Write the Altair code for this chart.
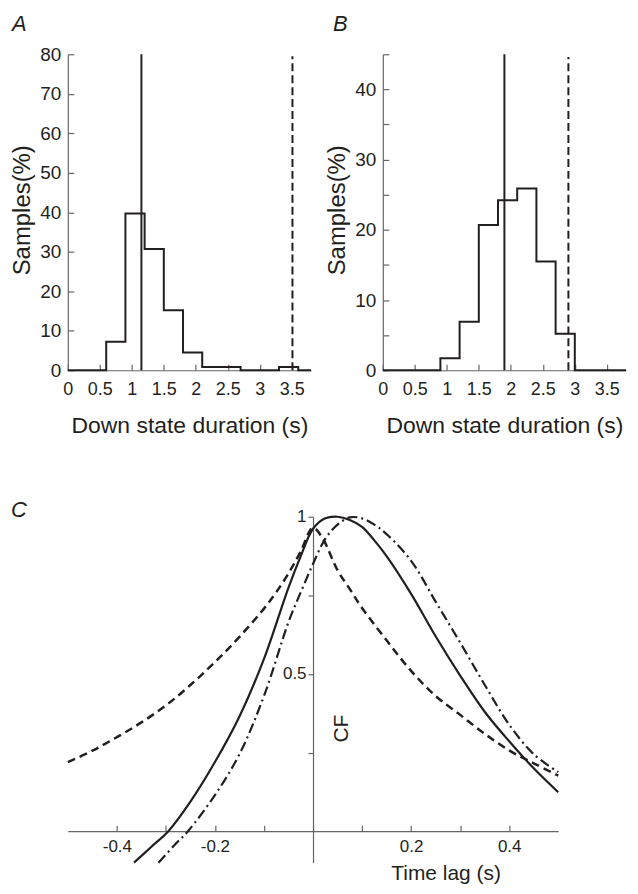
import altair as alt
import pandas as pd

FONT = "Liberation Sans"
INK = "#231f20"
AXC = "#666666"

# ---------------- data ----------------
# Panels A/B: histogram bin edges (s) and percentage of samples per bin
bin_edges = [0.0, 0.3, 0.6, 0.9, 1.2, 1.5, 1.8, 2.1, 2.4, 2.7, 3.0, 3.3, 3.6, 3.8]
a_pct = [0, 0, 7.2, 39.7, 30.7, 15.2, 4.5, 0.85, 0.85, 0, 0, 0.85, 0]
b_pct = [0, 0, 0, 1.7, 6.9, 20.7, 24.2, 25.9, 15.5, 5.2, 0, 0, 0]
a_mean, a_thresh, a_thresh_top = 1.15, 3.51, 79.5
b_mean, b_thresh, b_thresh_top = 1.9, 2.9, 44.6
x_ticks_hist = [0, 0.5, 1, 1.5, 2, 2.5, 3, 3.5]
a_yticks = [0, 10, 20, 30, 40, 50, 60, 70, 80]
b_yticks = [0, 5, 10, 15, 20, 25, 30, 35, 40, 45]
panel_letters = ["A", "B", "C"]

# Panel C: correlation functions vs time lag
solid_lag = [-0.365, -0.33, -0.295, -0.25, -0.2, -0.15, -0.1, -0.05, -0.025, 0.0, 0.025,
             0.05, 0.075, 0.1, 0.125, 0.15, 0.2, 0.25, 0.3, 0.35, 0.4, 0.45, 0.5]
solid_cf = [-0.1, -0.05, 0.0, 0.094, 0.22, 0.365, 0.548, 0.775, 0.875, 0.962, 0.995,
            1.0, 0.99, 0.968, 0.925, 0.875, 0.755, 0.62, 0.495, 0.38, 0.286, 0.20, 0.124]
dash_lag = [-0.5, -0.45, -0.4, -0.35, -0.3, -0.25, -0.2, -0.15, -0.1, -0.075, -0.05,
            -0.025, 0.0, 0.02, 0.05, 0.075, 0.1, 0.15, 0.2, 0.25, 0.3, 0.35, 0.4, 0.45, 0.5]
dash_cf = [0.22, 0.256, 0.299, 0.346, 0.40, 0.465, 0.538, 0.618, 0.708, 0.76, 0.82,
           0.89, 0.965, 0.93, 0.83, 0.77, 0.71, 0.607, 0.51, 0.43, 0.37, 0.31, 0.257, 0.216, 0.177]
dd_lag = [-0.315, -0.28, -0.255, -0.2, -0.15, -0.1, -0.05, -0.025, 0.0, 0.025, 0.05,
          0.075, 0.1, 0.125, 0.15, 0.2, 0.25, 0.3, 0.35, 0.4, 0.45, 0.5]
dd_cf = [-0.1, -0.04, 0.0, 0.115, 0.245, 0.43, 0.665, 0.76, 0.85, 0.93, 0.975,
         0.998, 0.995, 0.975, 0.945, 0.86, 0.73, 0.60, 0.466, 0.339, 0.245, 0.188]
c_xticks = [-0.4, -0.3, -0.2, -0.1, 0.0, 0.1, 0.2, 0.3, 0.4]
c_yticks = [0.25, 0.5, 0.75, 1.0]

W_H, H_H = 244, 317
W_C, H_C = 492, 347
C_XDOM = [-0.5, 0.5]
C_YDOM = [-0.1, 1.0]


def letter_mark(txt, dx, dy):
    return alt.Chart(pd.DataFrame({"t": [txt]})).mark_text(
        font=FONT, fontSize=22, fontStyle="italic", color=INK,
        align="left", baseline="alphabetic").encode(
        text="t:N", x=alt.value(dx), y=alt.value(dy))


def hist_panel(pct, mean, thresh, thresh_top, ymax, yticks, label_every, letter, dx):
    df = pd.DataFrame({"x": bin_edges, "y": pct + [pct[-1]]})
    xs = alt.Scale(domain=[0, 3.8], nice=False, zero=False)
    ys = alt.Scale(domain=[0, ymax], nice=False)
    xaxis = alt.Axis(values=x_ticks_hist, format="~g", title="Down state duration (s)",
                     tickSize=alt.ExprRef("-6"), labelPadding=16, labelFontSize=18,
                     labelOverlap=False, labelFlush=False,
                     titleFontSize=23, titleY=62, titleBaseline="alphabetic")
    yaxis = alt.Axis(values=yticks,
                     labelExpr=f"datum.value % {label_every} == 0 ? datum.label : ''",
                     title="Samples(%)", tickSize=alt.ExprRef("-6"), labelPadding=13,
                     labelFontSize=19, labelOverlap=False, labelFlush=False,
                     titleFontSize=24, titleX=-38, titleY=156,
                     titleAngle=270, titleAlign="center", titleBaseline="alphabetic")
    step = alt.Chart(df).mark_line(interpolate="step-after", color=INK, strokeWidth=2).encode(
        x=alt.X("x:Q", scale=xs, axis=xaxis),
        y=alt.Y("y:Q", scale=ys, axis=yaxis),
    )
    mean_rule = alt.Chart(pd.DataFrame({"x": [mean], "y0": [0], "y1": [ymax]})).mark_rule(
        color=INK, strokeWidth=2).encode(
        x=alt.X("x:Q", scale=xs, axis=xaxis),
        y=alt.Y("y0:Q", scale=ys, axis=yaxis), y2="y1:Q")
    thr_rule = alt.Chart(pd.DataFrame({"x": [thresh], "y0": [0], "y1": [thresh_top]})).mark_rule(
        color=INK, strokeWidth=2, strokeDash=[8, 4]).encode(
        x=alt.X("x:Q", scale=xs, axis=xaxis),
        y=alt.Y("y0:Q", scale=ys, axis=yaxis), y2="y1:Q")
    return alt.layer(step, mean_rule, thr_rule, letter_mark(letter, dx, -23)).properties(
        width=W_H, height=H_H)


panel_a = hist_panel(a_pct, a_mean, a_thresh, a_thresh_top, 80, a_yticks, 10,
                     panel_letters[0], -56)
panel_b = hist_panel(b_pct, b_mean, b_thresh, b_thresh_top, 45, b_yticks, 10,
                     panel_letters[1], -50)

# ---- panel C ----
x_off = -(H_C * (0 - C_YDOM[0]) / (C_YDOM[1] - C_YDOM[0]))
y_off = -(W_C * (0 - C_XDOM[0]) / (C_XDOM[1] - C_XDOM[0]))
cxs = alt.Scale(domain=C_XDOM, nice=False, zero=False)
cys = alt.Scale(domain=C_YDOM, nice=False, zero=False)
c_xaxis = alt.Axis(values=c_xticks,
                   labelExpr="(abs(datum.value) > 0.15 && abs(round(datum.value*10)) % 2 == 0) ? replace(format(datum.value, '~g'), '\u2212', '-') : ''",
                   offset=x_off, tickSize=alt.ExprRef("-6"), labelPadding=13, labelFontSize=17,
                   labelOverlap=False, labelFlush=False,
                   title="Time lag (s)", titleFontSize=21, titleX=379, titleY=48,
                   titleBaseline="alphabetic", titleAlign="center")
c_yaxis = alt.Axis(values=c_yticks,
                   labelExpr="(datum.value == 0.5 || datum.value == 1) ? format(datum.value, '~g') : ''",
                   offset=y_off, tickSize=5, labelPadding=2, labelFontSize=17,
                   labelOverlap=False, labelFlush=False,
                   title="CF", titleFontSize=21, titleX=28.5, titleY=212, titleAngle=270,
                   titleAlign="center", titleBaseline="middle")


def curve(lag, cf, dash, width):
    df = pd.DataFrame({"lag": lag, "cf": cf})
    kw = dict(color=INK, strokeWidth=width)
    if dash:
        kw["strokeDash"] = dash
    return alt.Chart(df).mark_line(interpolate="catmull-rom", **kw).encode(
        x=alt.X("lag:Q", scale=cxs, axis=c_xaxis),
        y=alt.Y("cf:Q", scale=cys, axis=c_yaxis),
    )


panel_c = alt.layer(
    curve(dash_lag, dash_cf, [8, 5], 2.5),
    curve(solid_lag, solid_cf, None, 2.2),
    curve(dd_lag, dd_cf, [10, 4, 2, 4], 2.2),
    letter_mark(panel_letters[2], -57, 0),
).properties(width=W_C, height=H_C)

top = alt.hconcat(panel_a, panel_b, spacing=72, bounds="flush")
chart = alt.vconcat(top, panel_c, spacing=62).properties(
    padding={"left": 3, "top": 4, "right": 0, "bottom": 0}
).configure_view(stroke=None).configure_axis(
    grid=False, domainColor=AXC, tickColor=AXC, domainWidth=1.2, tickWidth=1.2,
    labelFont=FONT, titleFont=FONT, labelColor=INK, titleColor=INK,
    titleFontWeight="normal", labelOverlap=False,
).configure_axisX(labelOverlap=False).configure_axisY(labelOverlap=False)

chart.save("out.html", embed_options={"renderer": "svg", "actions": False})
